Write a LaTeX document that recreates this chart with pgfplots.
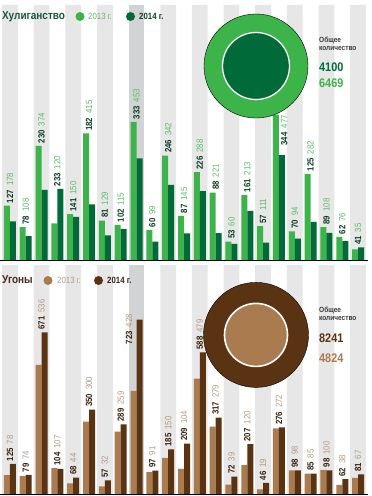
\documentclass[border=0pt]{standalone}
\usepackage{pgfplots}
\pgfplotsset{compat=1.18}
\usepackage{pgfplotstable}
\usepackage{fontspec}
\setmainfont[FakeStretch=0.87]{Liberation Sans}
\definecolor{lg}{HTML}{3CB44A}
\definecolor{dg}{HTML}{006A38}
\definecolor{lgtext}{HTML}{5DBB68}
\definecolor{dgtext}{HTML}{0B3F24}
\definecolor{gtitle}{HTML}{17583A}
\definecolor{lb}{HTML}{A97B4F}
\definecolor{db}{HTML}{5A3313}
\definecolor{lbtext}{HTML}{B39A82}
\definecolor{dbtext}{HTML}{3A220F}
\definecolor{btitle}{HTML}{4A2B12}
\definecolor{stripe}{HTML}{E7E7E8}
\definecolor{hl}{HTML}{D2D3D5}
\definecolor{tot}{HTML}{3A3A3A}

% x = district, a = 2013, b = 2014, dx/dy = label offset
\pgfplotstableread{
x a b dx dy
1 178 127 0 0
2 108 78 0 0
3 374 230 0 0
4 120 233 0 0
5 150 141 0 0
6 415 182 0 0
7 129 81 0 0
8 115 102 0 0
9 453 333 0 0
10 99 60 0 0
11 342 246 0 0
12 145 87 0 0
13 288 226 0 0
14 221 88 0 0
15 60 53 0 0
16 213 161 0 0
17 111 57 0 0
18 477 344 0.33 -110
19 94 70 0 0
20 282 125 0 0
21 108 89 0 0
22 76 62 0 0
23 35 41 0 0
}\hooltab

\pgfplotstableread{
x a b dx dy
1 78 125 0 0
2 74 79 0 0
3 536 671 0 0
4 107 104 0 0
5 44 68 0 0
6 300 350 0 0
7 32 57 0 0
8 259 289 0 0
9 428 723 -0.47 -113
10 91 97 0 0
11 150 185 0 0
12 104 209 0 0
13 479 588 0 0
14 279 317 0 0
15 39 72 0 0
16 120 207 0 0
17 19 46 0 0
18 272 276 0 0
19 98 98 0 0
20 85 85 0 0
21 100 98 0 0
22 38 62 0 0
23 67 81 0 0
}\ugontab

\newcommand{\lab}{\fontsize{9}{9}\selectfont}
\pgfplotsset{panel/.style={scale only axis, width=364pt, xmin=0.5, xmax=23.5, ymin=0,
  hide axis, clip=false, anchor=south west, /pgf/number format/assume math mode=true}}

\begin{document}
\begin{tikzpicture}
\useasboundingbox (0,0) rectangle (372pt,496pt);

% ---------- Top panel: Хулиганство ----------
\begin{axis}[panel, at={(2pt,236pt)}, height=255pt, ymax=836]
\addplot[ybar, bar width=15.82pt, bar shift=0pt, fill=stripe, draw=none]
  coordinates {(1,836) (3,836) (5,836) (7,836) (11,836) (13,836) (15,836) (17,836) (19,836) (21,836) (23,836)};
\addplot[ybar, bar width=15.82pt, bar shift=0pt, fill=hl, draw=none]
  coordinates {(9,836)};
% totals donut
\addplot[only marks, mark=*, mark size=52pt, mark options={draw=none, fill=lg}]
  coordinates {(16.55,636)};
\addplot[only marks, mark=*, mark size=33.5pt, mark options={draw=white, line width=1.3pt, fill=dg}]
  coordinates {(16.55,636)};
% bars
\addplot[ybar, bar width=6pt, bar shift=-3pt, fill=lg, draw=none] table[x=x, y=a]{\hooltab};
\addplot[ybar, bar width=6pt, bar shift=3pt, fill=dg, draw=none] table[x=x, y=b]{\hooltab};
% labels
\addplot[draw=none, mark=none,
  nodes near coords={\textbf{\pgfmathprintnumber{\vb}}\hspace{4pt}\textcolor{lgtext}{\pgfmathprintnumber{\va}}},
  visualization depends on={\thisrow{b} \as \vb},
  visualization depends on={\thisrow{a} \as \va},
  every node near coord/.append style={rotate=90, anchor=west, inner sep=0pt, inner xsep=2.5pt, font=\lab, text=dgtext}]
  table[x expr=\thisrow{x}+\thisrow{dx}, y expr={max(\thisrow{a},\thisrow{b})+\thisrow{dy}}]{\hooltab};
\end{axis}

% ---------- Bottom panel: Угоны ----------
\begin{axis}[panel, at={(2pt,2pt)}, height=229pt, ymax=950]
\addplot[ybar, bar width=15.82pt, bar shift=0pt, fill=stripe, draw=none]
  coordinates {(1,950) (3,950) (5,950) (7,950) (11,950) (13,950) (15,950) (17,950) (19,950) (21,950) (23,950)};
\addplot[ybar, bar width=15.82pt, bar shift=0pt, fill=hl, draw=none]
  coordinates {(9,950)};
\addplot[only marks, mark=*, mark size=52.5pt, mark options={draw=none, fill=db}]
  coordinates {(16.55,660)};
\addplot[only marks, mark=*, mark size=31.5pt, mark options={draw=white, line width=1.6pt, fill=lb}]
  coordinates {(16.55,660)};
\addplot[ybar, bar width=6pt, bar shift=-3pt, fill=lb, draw=none] table[x=x, y=a]{\ugontab};
\addplot[ybar, bar width=6pt, bar shift=3pt, fill=db, draw=none] table[x=x, y=b]{\ugontab};
\addplot[draw=none, mark=none,
  nodes near coords={\textbf{\pgfmathprintnumber{\vb}}\hspace{4pt}\textcolor{lbtext}{\pgfmathprintnumber{\va}}},
  visualization depends on={\thisrow{b} \as \vb},
  visualization depends on={\thisrow{a} \as \va},
  every node near coord/.append style={rotate=90, anchor=west, inner sep=0pt, inner xsep=2.5pt, font=\lab, text=dbtext}]
  table[x expr=\thisrow{x}+\thisrow{dx}, y expr={max(\thisrow{a},\thisrow{b})+\thisrow{dy}}]{\ugontab};
\end{axis}

% baselines
\draw[black, line width=0.9pt] (0pt,236pt) -- (368pt,236pt);
\draw[black, line width=0.9pt] (0pt,2pt) -- (368pt,2pt);

% ---------- Titles and legends ----------
\node[anchor=base west, inner sep=0pt, text=gtitle, font=\fontsize{11.5}{12}\selectfont\bfseries] at (2pt,476pt) {Хулиганство};
\node[circle, fill=lg, inner sep=0pt, minimum size=9pt] at (80pt,479.5pt) {};
\node[anchor=base west, inner sep=0pt, text=lgtext, font=\fontsize{9}{10}\selectfont] at (88pt,476pt) {2013 г.};
\node[circle, fill=dg, inner sep=0pt, minimum size=9pt] at (130.5pt,479.5pt) {};
\node[anchor=base west, inner sep=0pt, text=dgtext, font=\fontsize{9}{10}\selectfont\bfseries] at (139pt,476pt) {2014 г.};

\node[anchor=base west, inner sep=0pt, text=tot, font=\fontsize{7.5}{8}\selectfont\bfseries] at (319pt,453pt) {Общее};
\node[anchor=base west, inner sep=0pt, text=tot, font=\fontsize{7.5}{8}\selectfont\bfseries] at (319pt,445.5pt) {количество};
\node[anchor=base west, inner sep=0pt, text=dg, font=\fontsize{12.5}{13}\selectfont\bfseries] at (319pt,424pt) {4100};
\node[anchor=base west, inner sep=0pt, text=lg, font=\fontsize{12.5}{13}\selectfont\bfseries] at (319pt,408pt) {6469};

\node[anchor=base west, inner sep=0pt, text=btitle, font=\fontsize{11.5}{12}\selectfont\bfseries] at (2pt,212pt) {Угоны};
\node[circle, fill=lb, inner sep=0pt, minimum size=9pt] at (48pt,215.5pt) {};
\node[anchor=base west, inner sep=0pt, text=lbtext, font=\fontsize{9}{10}\selectfont] at (57pt,212pt) {2013 г.};
\node[circle, fill=db, inner sep=0pt, minimum size=9pt] at (98.5pt,215.5pt) {};
\node[anchor=base west, inner sep=0pt, text=dbtext, font=\fontsize{9}{10}\selectfont\bfseries] at (107pt,212pt) {2014 г.};

\node[anchor=base west, inner sep=0pt, text=tot, font=\fontsize{7.5}{8}\selectfont\bfseries] at (319pt,183pt) {Общее};
\node[anchor=base west, inner sep=0pt, text=tot, font=\fontsize{7.5}{8}\selectfont\bfseries] at (319pt,175.5pt) {количество};
\node[anchor=base west, inner sep=0pt, text=db, font=\fontsize{12.5}{13}\selectfont\bfseries] at (319pt,153pt) {8241};
\node[anchor=base west, inner sep=0pt, text=lb, font=\fontsize{12.5}{13}\selectfont\bfseries] at (319pt,133pt) {4824};
\end{tikzpicture}
\end{document}
